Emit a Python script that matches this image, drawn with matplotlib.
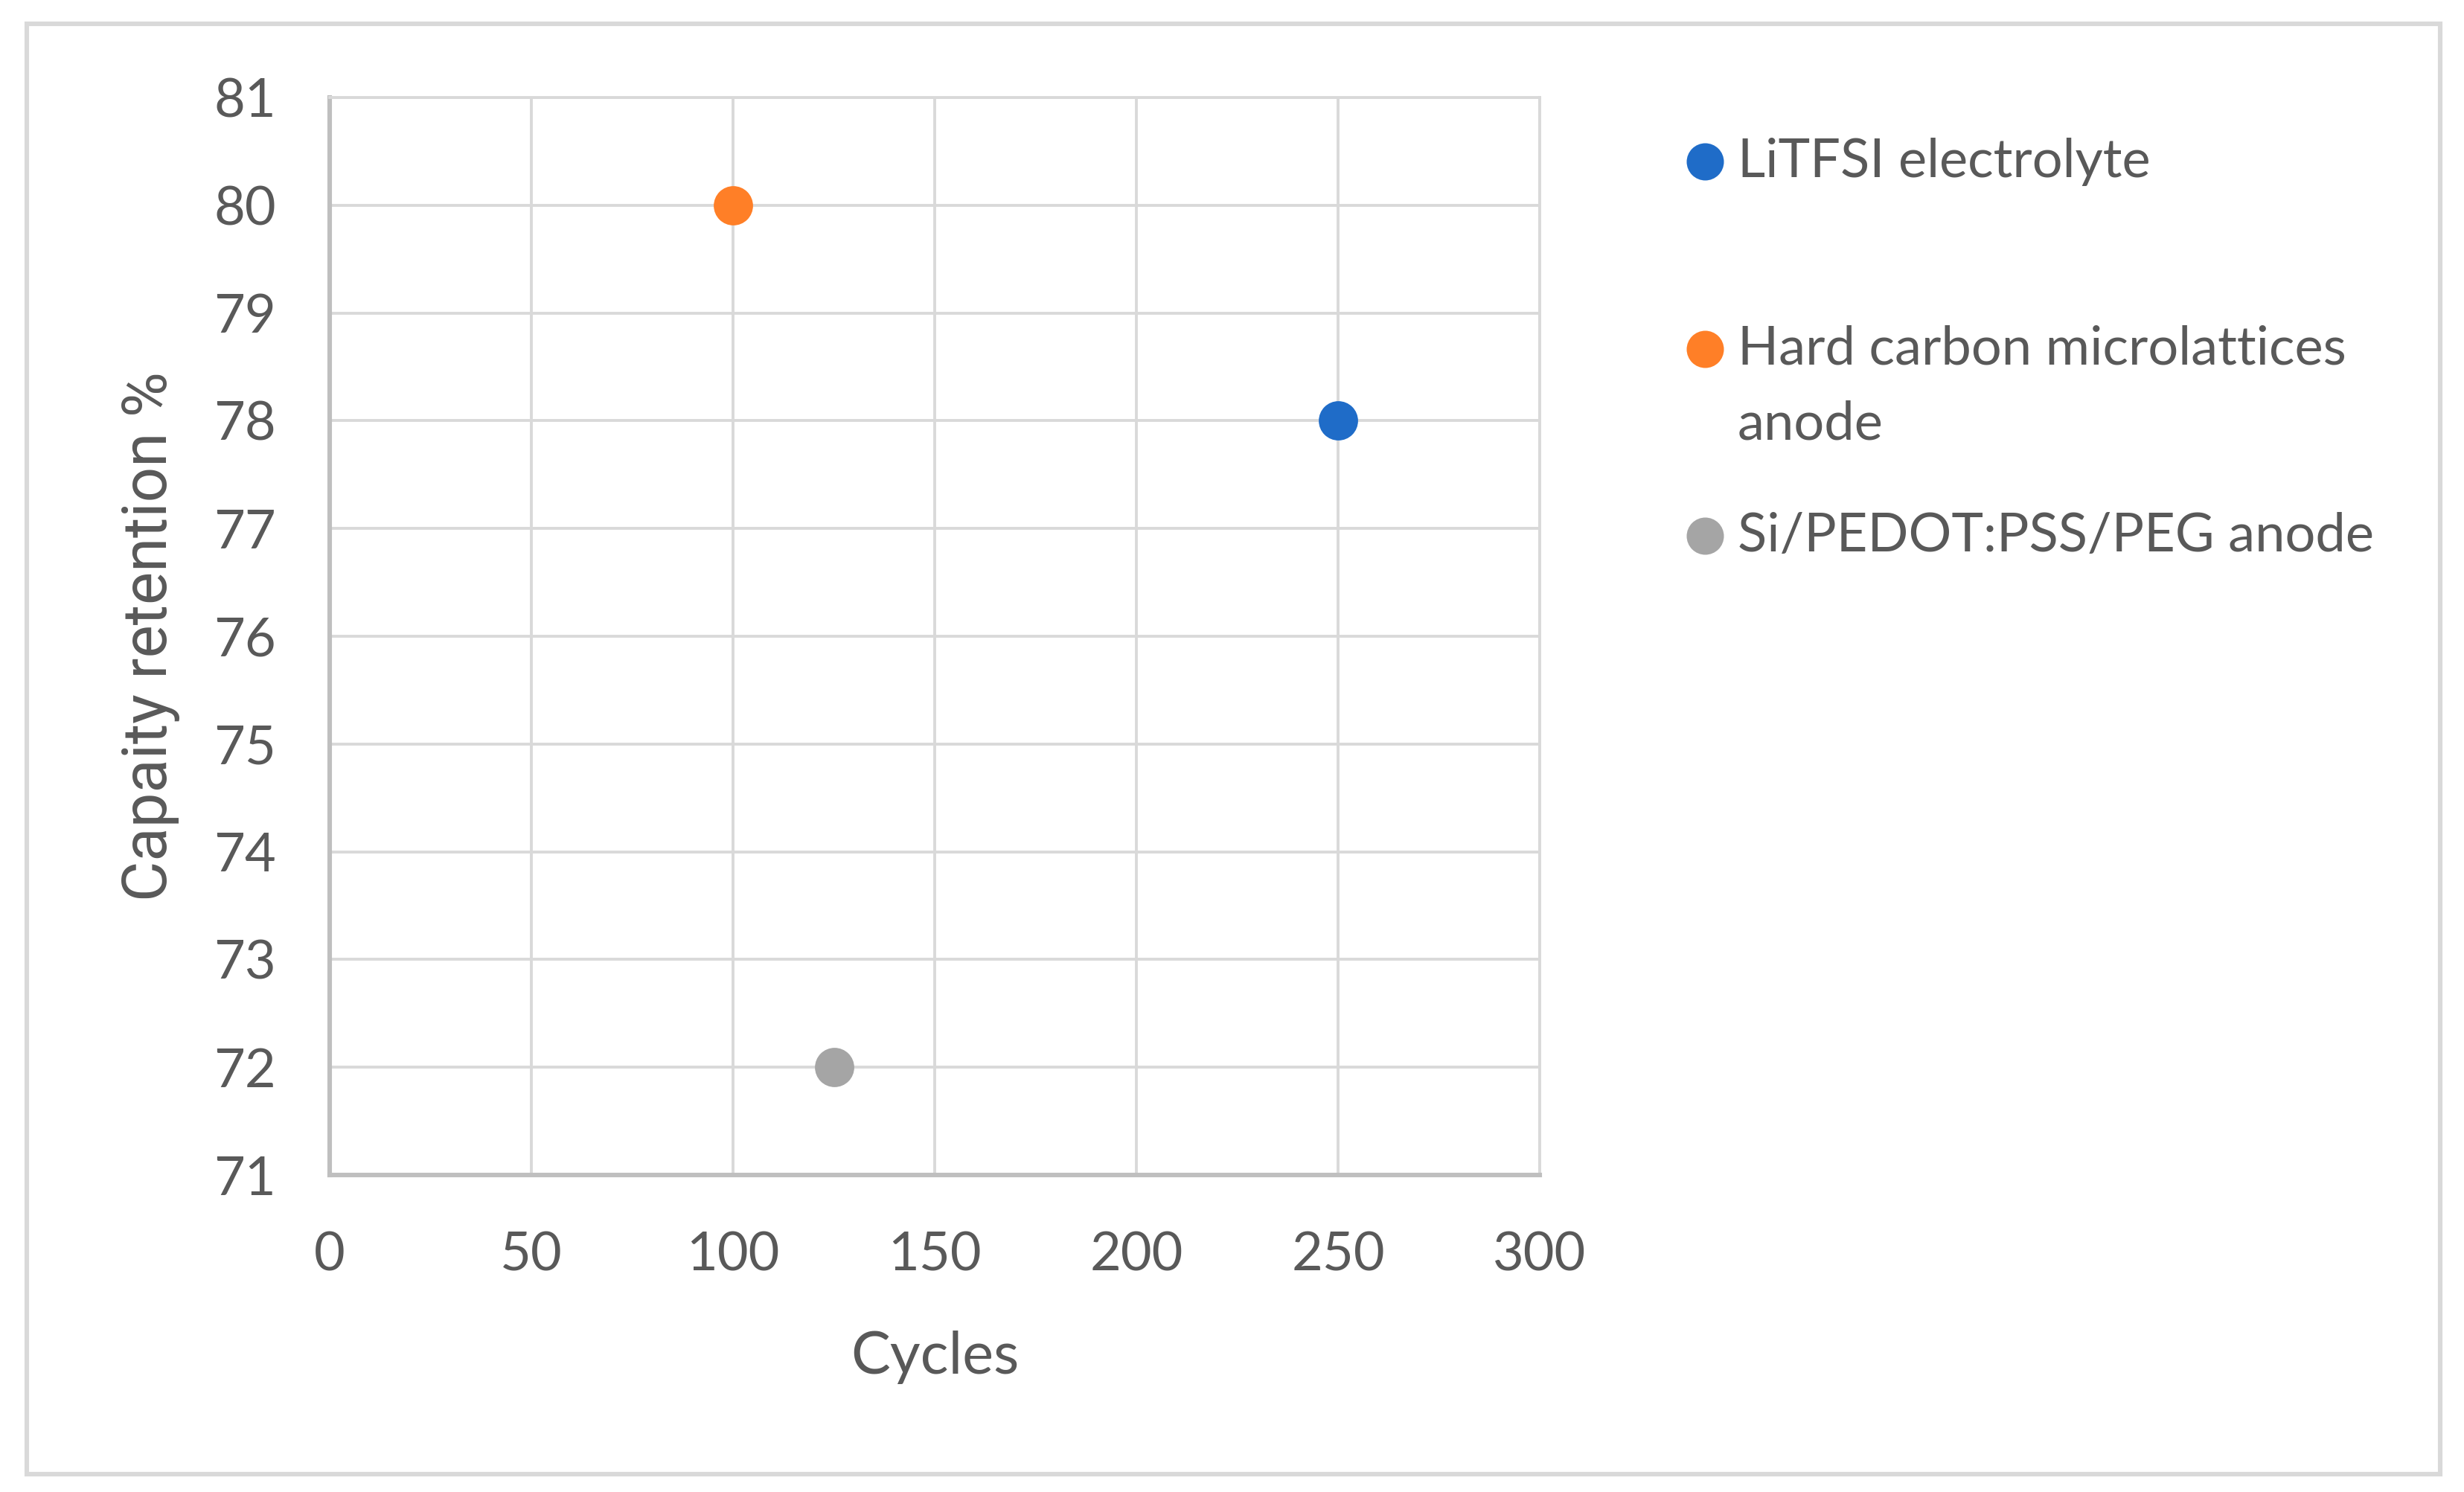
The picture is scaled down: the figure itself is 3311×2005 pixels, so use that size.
import matplotlib
matplotlib.use("Agg")
import matplotlib.pyplot as plt
from matplotlib.lines import Line2D
from matplotlib.patches import Rectangle

series_names = ["LiTFSI electrolyte", "Hard carbon microlattices\nanode", "Si/PEDOT:PSS/PEG anode"]
cycles = [250, 100, 125]
retention = [78, 80, 72]
colors = ["#1F6CC8", "#FF7F27", "#A5A5A5"]
x_ticks = [0, 50, 100, 150, 200, 250, 300]
y_ticks = [71, 72, 73, 74, 75, 76, 77, 78, 79, 80, 81]

W, H = 3311, 2005
DPI = 200
fig = plt.figure(figsize=(W / DPI, H / DPI), dpi=DPI)
fig.patch.set_facecolor("white")

# outer border
fig.add_artist(Rectangle((36 / W, 1 - 1981 / H), (3279 - 36) / W, (1981 - 32) / H,
                         transform=fig.transFigure, fill=False, edgecolor="#D9D9D9", lw=2.2))

left, right, top, bottom = 443, 2069, 131, 1579
ax = fig.add_axes([left / W, 1 - bottom / H, (right - left) / W, (bottom - top) / H])

text_col = "#595959"
tick_font = "Lato"

for xv, yv, c in zip(cycles, retention, colors):
    ax.plot([xv], [yv], marker="o", ms=18, color=c, mec=c, ls="none", zorder=5, clip_on=False)

ax.set_xlim(0, 300)
ax.set_ylim(71, 81)
ax.set_xticks(x_ticks)
ax.set_yticks(y_ticks)
ax.grid(True, color="#D9D9D9", lw=1.4, zorder=0)
ax.set_axisbelow(True)
for s in ["top", "right"]:
    ax.spines[s].set_color("#D9D9D9")
    ax.spines[s].set_linewidth(1.4)
for s in ["left", "bottom"]:
    ax.spines[s].set_color("#BFBFBF")
    ax.spines[s].set_linewidth(2.2)
ax.tick_params(axis="both", length=0, labelsize=26, labelcolor=text_col)
ax.tick_params(axis="x", pad=27)
ax.tick_params(axis="y", pad=26)
for lab in ax.get_xticklabels() + ax.get_yticklabels():
    lab.set_fontfamily(tick_font)

ax.set_xlabel("Cycles", fontsize=28.5, color=text_col, family=tick_font, labelpad=25)
ax.set_ylabel("Capaity retention %", fontsize=30, color=text_col, family="Roboto", labelpad=16)

# legend (manual)
leg_marker_x = 2291 / W
leg_text_x = 2335 / W
leg_y = [217, 469, 720]
line_step = 101
for name, c, yp in zip(series_names, colors, leg_y):
    fy = 1 - yp / H
    fig.add_artist(Line2D([leg_marker_x], [fy], marker="o", ms=17, color=c, mec=c,
                          ls="none", transform=fig.transFigure))
    for i, line in enumerate(name.split("\n")):
        fig.text(leg_text_x, 1 - (yp + i * line_step) / H, line, fontsize=26,
                 color=text_col, family=tick_font, va="center",
                 transform=fig.transFigure)

fig.savefig("out.png", dpi=DPI, facecolor="white")
